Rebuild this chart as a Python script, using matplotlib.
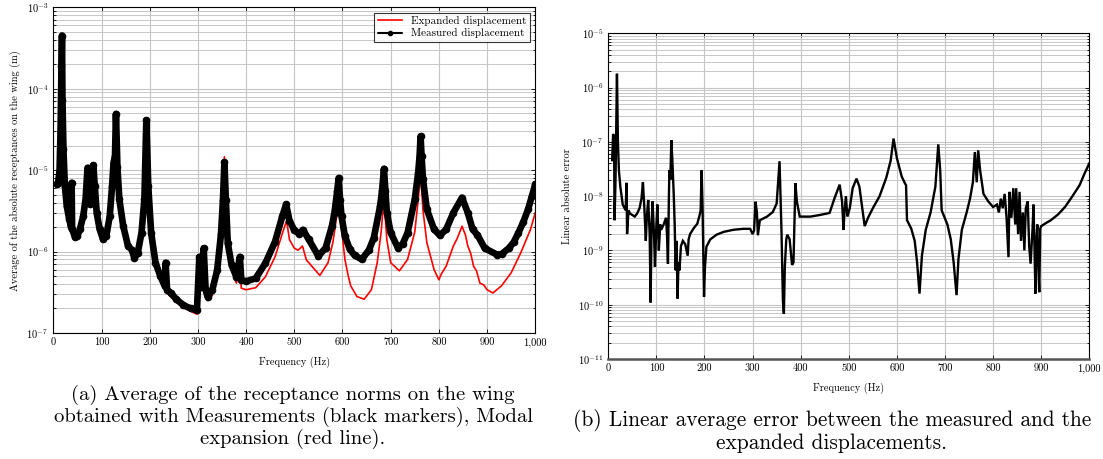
import numpy as np
import matplotlib
matplotlib.use("Agg")
import matplotlib.pyplot as plt
from matplotlib.ticker import LogLocator, FixedLocator, FuncFormatter, NullFormatter

plt.rcParams['font.family'] = ['cmr10', 'DejaVu Serif']
plt.rcParams['mathtext.fontset'] = 'cm'
plt.rcParams['axes.formatter.use_mathtext'] = True

# (a) measured displacement (black markers)
f_meas = [7, 10, 13, 15, 17, 18, 19, 21, 24, 28, 33, 37, 38, 39, 45, 50, 55, 62, 67, 71,
          74, 77, 80, 83, 86, 90, 96, 103, 110, 117, 122, 125, 128, 130, 133, 137, 145,
          155, 163, 168, 175, 183, 189, 193, 197, 203, 212, 222, 231, 233, 236, 245, 255,
          270, 285, 298, 303, 306, 312, 316, 320, 330, 340, 348, 352, 355, 358, 362, 370,
          380, 387, 390, 400, 420, 440, 460, 475, 483, 490, 500, 510, 518, 530, 550, 565,
          578, 583, 589, 592, 595, 598, 605, 615, 625, 640, 655, 665, 678, 682, 686, 689,
          692, 700, 715, 725, 735, 750, 757, 760, 762, 764, 767, 775, 790, 802, 815, 830,
          848, 860, 870, 880, 895, 920, 930, 945, 955, 965, 975, 985, 993, 1000]
d_meas = [6.7e-6, 7.0e-6, 1.0e-5, 2.9e-5, 1.9e-4, 4.5e-4, 7.3e-5, 1.8e-5, 6.4e-6, 3.6e-6,
          2.5e-6, 2.0e-6, 7.0e-6, 1.9e-6, 1.5e-6, 1.55e-6, 1.87e-6, 2.7e-6, 4.4e-6, 1.07e-5,
          6.5e-6, 3.8e-6, 6.4e-6, 1.15e-5, 6.4e-6, 3.0e-6, 1.9e-6, 1.42e-6, 1.56e-6, 2.7e-6,
          6.4e-6, 1.23e-5, 1.5e-5, 4.9e-5, 1.1e-5, 4.4e-6, 2.07e-6, 1.17e-6, 1.05e-6, 8.4e-7,
          9.5e-7, 1.7e-6, 4.4e-6, 4.1e-5, 6.4e-6, 1.7e-6, 7.3e-7, 5.0e-7, 3.8e-7, 7.3e-7,
          3.4e-7, 3.06e-7, 2.6e-7, 2.2e-7, 2.0e-7, 1.9e-7, 8.6e-7, 3.7e-7, 1.1e-6, 3.4e-7,
          2.8e-7, 3.4e-7, 5.9e-7, 1.66e-6, 4.3e-6, 1.25e-5, 4.3e-6, 1.26e-6, 6.8e-7, 4.9e-7,
          8.6e-7, 4.5e-7, 4.3e-7, 4.7e-7, 7.2e-7, 1.32e-6, 2.7e-6, 3.8e-6, 2.4e-6, 1.83e-6,
          1.66e-6, 1.85e-6, 1.41e-6, 8.8e-7, 1.11e-6, 2.05e-6, 2.9e-6, 5.5e-6, 8.0e-6, 4.3e-6,
          2.7e-6, 1.55e-6, 1.07e-6, 9.0e-7, 8.0e-7, 1.05e-6, 1.48e-6, 3.6e-6, 5.5e-6, 1.04e-5,
          5.5e-6, 3.0e-6, 1.7e-6, 1.11e-6, 1.25e-6, 1.7e-6, 4.4e-6, 9.3e-6, 1.5e-5, 2.6e-5,
          1.5e-5, 7.7e-6, 3.3e-6, 1.87e-6, 1.58e-6, 1.87e-6, 3.0e-6, 4.6e-6, 3.0e-6, 1.87e-6,
          1.6e-6, 1.1e-6, 9.2e-7, 9.3e-7, 1.1e-6, 1.3e-6, 1.7e-6, 2.3e-6, 3.3e-6, 4.8e-6,
          6.7e-6]

# (a) expanded displacement (red line)
f_exp = [7, 10, 13, 15, 17, 18, 19, 21, 24, 28, 33, 37, 38, 39, 45, 50, 55, 62, 67, 71,
         74, 77, 80, 83, 86, 90, 96, 103, 110, 117, 122, 125, 128, 130, 133, 137, 145,
         155, 163, 168, 175, 183, 189, 193, 197, 203, 212, 222, 231, 233, 236, 243, 255,
         270, 285, 298, 303, 306, 312, 316, 320, 330, 340, 348, 352, 355, 358, 362, 370,
         380, 387, 390, 400, 420, 440, 460, 475, 484, 490, 500, 508, 517, 525, 530, 553,
         570, 580, 588, 592, 598, 605, 612, 617, 630, 645, 660, 672, 680, 686, 692, 700,
         718, 735, 750, 757, 762, 767, 775, 790, 795, 800, 805, 815, 830, 838, 848, 855,
         860, 866, 872, 878, 885, 893, 900, 912, 930, 950, 970, 990, 1000]
d_exp = [6.6e-6, 6.9e-6, 1.0e-5, 2.9e-5, 1.9e-4, 4.4e-4, 7.2e-5, 1.8e-5, 6.3e-6, 3.5e-6,
         2.45e-6, 1.95e-6, 6.8e-6, 1.85e-6, 1.45e-6, 1.5e-6, 1.82e-6, 2.65e-6, 4.3e-6, 1.05e-5,
         6.3e-6, 3.7e-6, 6.3e-6, 1.12e-5, 6.2e-6, 2.9e-6, 1.8e-6, 1.3e-6, 1.5e-6, 2.6e-6,
         6.2e-6, 1.2e-5, 1.5e-5, 4.8e-5, 1.1e-5, 4.3e-6, 2.0e-6, 1.12e-6, 1.0e-6, 8.1e-7,
         9.2e-7, 1.65e-6, 4.3e-6, 4.0e-5, 6.2e-6, 1.6e-6, 6.9e-7, 4.7e-7, 3.5e-7, 7.0e-7,
         3.1e-7, 2.8e-7, 2.4e-7, 2.05e-7, 1.85e-7, 1.7e-7, 8.4e-7, 3.4e-7, 1.05e-6, 3.0e-7,
         2.5e-7, 2.9e-7, 4.9e-7, 1.5e-6, 4.3e-6, 1.46e-5, 4.0e-6, 1.1e-6, 5.8e-7, 4.1e-7,
         7.5e-7, 3.55e-7, 3.4e-7, 3.6e-7, 4.9e-7, 8.6e-7, 1.66e-6, 2.4e-6, 1.4e-6, 1.1e-6,
         1.04e-6, 1.17e-6, 7.9e-7, 7.3e-7, 5.1e-7, 7.3e-7, 1.29e-6, 2.7e-6, 5.5e-6, 1.9e-6,
         8.0e-7, 5.0e-7, 3.8e-7, 2.8e-7, 2.6e-7, 3.4e-7, 7.3e-7, 1.7e-6, 4.4e-6, 1.4e-6,
         7.3e-7, 5.8e-7, 8.0e-7, 1.75e-6, 4.3e-6, 9.3e-6, 3.2e-6, 1.29e-6, 6.0e-7, 5.2e-7,
         4.5e-7, 5.3e-7, 6.6e-7, 1.17e-6, 1.45e-6, 2.05e-6, 1.6e-6, 1.17e-6, 9.5e-7, 6.6e-7,
         5.8e-7, 4.1e-7, 3.9e-7, 3.4e-7, 3.1e-7, 3.8e-7, 5.5e-7, 9.7e-7, 1.87e-6, 3.0e-6]

# (b) linear absolute error
f_err = [8, 10, 12, 13, 15, 18, 20, 22, 25, 30, 36, 38, 39, 42, 45, 50, 55, 60, 65, 69,
         72, 75, 78, 80, 83, 86, 88, 90, 92, 95, 97, 100, 102, 105, 108, 110, 115, 120,
         122, 124, 126, 127, 129, 131, 133, 136, 138, 140, 142, 144, 146, 148, 151, 155,
         160, 165, 167, 170, 178, 185, 190, 192, 194, 196, 199, 201, 204, 212, 225, 240,
         260, 280, 295, 300, 303, 306, 309, 311, 315, 330, 342, 350, 356, 360, 363, 365,
         367, 370, 372, 377, 382, 385, 389, 392, 398, 420, 440, 460, 470, 481, 486, 489,
         491, 494, 497, 502, 508, 516, 522, 528, 533, 540, 550, 564, 578, 587, 593, 600,
         610, 617, 619, 621, 624, 630, 637, 642, 647, 652, 660, 670, 680, 686, 690, 693,
         697, 705, 712, 718, 724, 728, 735, 745, 752, 758, 762, 766, 769, 773, 780, 790,
         800, 808, 812, 816, 820, 824, 828, 832, 834, 838, 842, 846, 848, 852, 855, 858,
         862, 865, 868, 872, 875, 878, 882, 884, 886, 888, 890, 892, 894, 896, 898, 900,
         910, 920, 935, 950, 965, 980, 990, 1000]
e_err = [4.6e-8, 1.4e-7, 1.2e-7, 3.6e-9, 2.0e-8, 1.8e-6, 1.0e-7, 3.0e-8, 1.5e-8, 7.0e-9,
         5.5e-9, 1.76e-8, 2.0e-9, 5.5e-9, 4.8e-9, 4.5e-9, 4.2e-9, 4.8e-9, 6.0e-9, 9.0e-9,
         1.8e-8, 6.0e-9, 1.5e-9, 4.0e-9, 8.5e-9, 2.0e-9, 1.1e-10, 3.0e-9, 8.0e-9, 2.0e-9,
         5.0e-10, 3.0e-9, 7.0e-9, 1.0e-9, 3.0e-9, 2.4e-9, 3.0e-9, 4.0e-9, 2.0e-9, 5.7e-10,
         1.0e-8, 3.0e-8, 2.0e-8, 1.08e-7, 5.0e-8, 1.1e-8, 3.0e-9, 4.3e-10, 1.5e-9, 1.3e-10,
         6.0e-10, 4.3e-10, 1.2e-9, 1.5e-9, 1.3e-9, 8.0e-10, 1.6e-9, 2.0e-9, 2.6e-9, 3.1e-9,
         4.5e-9, 5.5e-9, 3.0e-8, 6.0e-9, 1.4e-10, 5.0e-10, 1.17e-9, 1.6e-9, 1.95e-9, 2.2e-9,
         2.4e-9, 2.5e-9, 2.5e-9, 2.0e-9, 2.3e-9, 7.9e-9, 5.0e-9, 1.9e-9, 3.6e-9, 4.2e-9,
         5.1e-9, 7.3e-9, 4.4e-8, 2.4e-9, 1.2e-10, 6.8e-11, 5.0e-10, 1.6e-9, 1.95e-9, 1.6e-9,
         5.4e-10, 6.0e-10, 1.74e-8, 8.0e-9, 4.2e-9, 4.2e-9, 4.5e-9, 4.9e-9, 9.0e-9, 1.63e-8,
         8.0e-9, 2.4e-9, 5.0e-9, 1.0e-8, 4.2e-9, 6.0e-9, 1.4e-8, 2.1e-8, 1.5e-8, 6.0e-9,
         2.8e-9, 4.0e-9, 6.0e-9, 1.0e-8, 2.2e-8, 4.5e-8, 1.15e-7, 5.0e-8, 2.3e-8, 1.7e-8,
         1.6e-8, 3.6e-9, 3.2e-9, 2.5e-9, 1.5e-9, 6.0e-10, 1.6e-10, 8.0e-10, 2.4e-9, 5.0e-9,
         1.5e-8, 9.0e-8, 3.0e-8, 5.5e-9, 4.5e-9, 3.0e-9, 1.6e-9, 6.0e-10, 1.5e-10, 7.0e-10,
         2.4e-9, 5.0e-9, 9.0e-9, 1.8e-8, 6.5e-8, 1.8e-8, 7.0e-8, 3.0e-8, 1.1e-8, 8.0e-9,
         6.3e-9, 7.0e-9, 5.0e-9, 9.0e-9, 6.0e-9, 1.1e-8, 4.0e-9, 7.5e-10, 1.2e-8, 4.0e-9,
         1.4e-8, 3.0e-9, 1.4e-8, 2.0e-9, 1.2e-8, 1.5e-9, 5.0e-9, 1.0e-9, 6.0e-9, 8.0e-9,
         1.2e-9, 5.7e-10, 2.5e-9, 7.0e-9, 1.2e-9, 1.6e-10, 1.5e-9, 3.0e-9, 5.0e-10, 1.7e-10,
         2.5e-9, 2.8e-9, 3.2e-9, 3.6e-9, 4.6e-9, 6.4e-9, 1.0e-8, 1.6e-8, 2.6e-8, 4.0e-8]

freq_ticks = [0, 100, 200, 300, 400, 500, 600, 700, 800, 900, 1000]
caption_a = ("(a) Average of the receptance norms on the wing\n"
             "obtained with Measurements (black markers), Modal\n"
             "expansion (red line).")
caption_b = ("(b) Linear average error between the measured and the\n"
             "expanded displacements.")

W, H = 1103, 459
fig = plt.figure(figsize=(W / 100, H / 100), dpi=100)
ax1 = fig.add_axes([53.3 / W, 1 - 333 / H, 482 / W, 325.7 / H])
ax2 = fig.add_axes([608.3 / W, 1 - 359 / H, 481 / W, 325.7 / H])


def style(ax, ylo, yhi):
    ax.set_yscale('log')
    ax.set_xlim(0, 1000)
    ax.set_ylim(ylo, yhi)
    ax.xaxis.set_major_locator(FixedLocator(freq_ticks))
    ax.xaxis.set_major_formatter(FuncFormatter(lambda v, p: f'{int(v):,}'))
    ax.yaxis.set_major_locator(LogLocator(base=10, numticks=20))
    ax.yaxis.set_minor_locator(LogLocator(base=10, subs=np.arange(2, 10), numticks=20))
    ax.yaxis.set_minor_formatter(NullFormatter())
    ax.grid(True, which='major', color='#c4c4c4', lw=0.8)
    ax.grid(True, which='minor', axis='y', color='#c8c8c8', lw=0.7)
    ax.set_axisbelow(True)
    ax.tick_params(which='both', direction='in', top=True, right=True, labelsize=7.5,
                   width=0.6)
    ax.tick_params(which='major', length=3)
    ax.tick_params(which='minor', length=1.8)
    for s in ax.spines.values():
        s.set_linewidth(0.8)
    ax.set_xlabel('Frequency (Hz)', fontsize=7.5, labelpad=6)


style(ax1, 1e-7, 1e-3)
ax1.plot(f_exp, d_exp, color='red', lw=1.2, label='Expanded displacement', zorder=3)
ax1.plot(f_meas, d_meas, color='black', lw=4.8, marker='o', ms=4.5, zorder=4,
         solid_capstyle='round', solid_joinstyle='round', label='Measured displacement')
leg = ax1.legend(loc='upper right', fontsize=8, frameon=True, fancybox=False,
                 edgecolor='black', borderpad=0.3, handlelength=2.2, labelspacing=0.2,
                 borderaxespad=0.5)
leg.get_frame().set_linewidth(0.8)
leg.legend_handles[1].set_linewidth(1.5)
leg.legend_handles[1].set_markersize(3)
ax1.set_ylabel('Average of the absolute receptances on the wing (m)', fontsize=7.5,
               labelpad=4)

style(ax2, 1e-11, 1e-5)
ax2.plot(f_err, e_err, color='black', lw=1.7, zorder=3, solid_joinstyle='miter')
ax2.spines['bottom'].set_linewidth(1.8)
ax2.spines['bottom'].set_color('#555555')
ax2.set_ylabel('Linear absolute error', fontsize=7.5, labelpad=4)

fig.text(293 / W, 1 - 417 / H, caption_a, ha='center', va='center', fontsize=14.8,
         linespacing=1.1)
fig.text(832 / W, 1 - 431 / H, caption_b, ha='center', va='center', fontsize=15.4,
         linespacing=1.05)

fig.savefig('out.png', dpi=100)
